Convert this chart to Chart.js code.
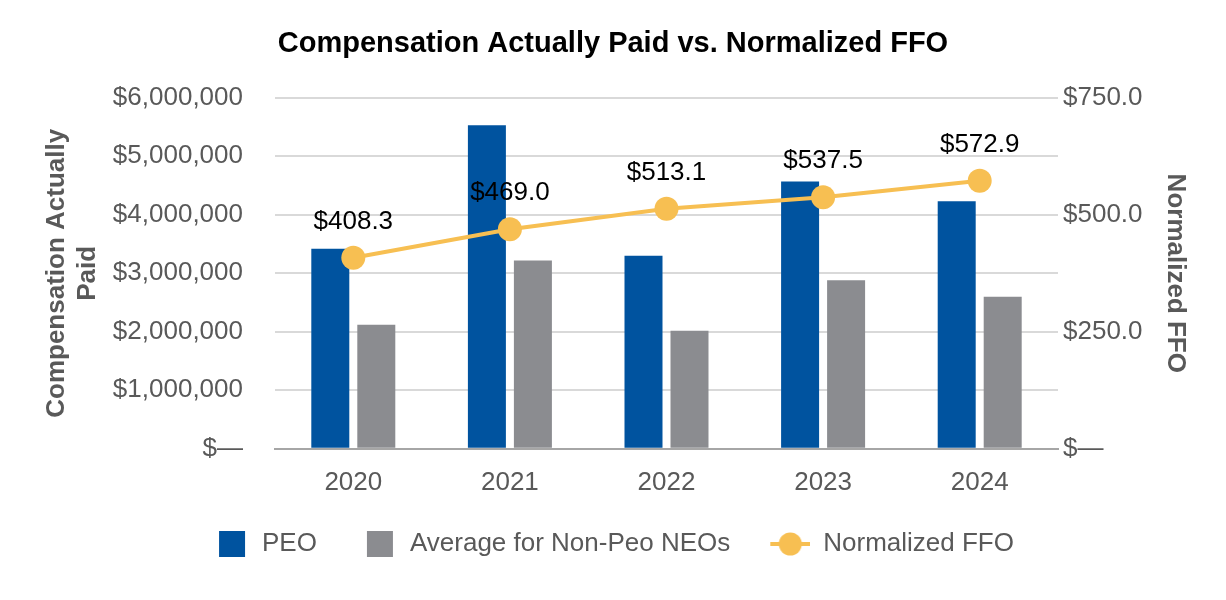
<!DOCTYPE html>
<html>
<head>
<meta charset="utf-8">
<script src="https://cdn.jsdelivr.net/npm/chart.js@4"></script>
<style>
  html, body { margin: 0; padding: 0; background: #ffffff; }
  #wrap { width: 1226px; height: 600px; }
</style>
</head>
<body>
<div id="wrap"><canvas id="capChart"></canvas></div>
<script>
// chart data
const years = ['2020', '2021', '2022', '2023', '2024'];
const peoPaid = [3420000, 5530000, 3300000, 4570000, 4230000];
const nonPeoPaid = [2120000, 3220000, 2020000, 2880000, 2600000];
const normalizedFfo = [408.3, 469.0, 513.1, 537.5, 572.9];

const BLUE = '#00539F';
const GRAY = '#8B8C90';
const GOLD = '#F7BF52';
const TEXT = '#595959';
const FONT = "'Liberation Sans', Arial, sans-serif";

// legend icons (drawn to the right of a 57px wide slot)
const ICON_W = 57;
function boxIcon(color) {
    const c = document.createElement('canvas');
    c.width = ICON_W; c.height = 26;
    const g = c.getContext('2d');
    g.fillStyle = color;
    g.fillRect(ICON_W - 30, 0, 26, 26);
    return c;
}
function lineIcon(color) {
    const c = document.createElement('canvas');
    c.width = ICON_W; c.height = 26;
    const g = c.getContext('2d');
    g.fillStyle = color;
    g.fillRect(ICON_W - 40, 11, 40, 4);
    g.beginPath();
    g.arc(ICON_W - 20, 13, 11.5, 0, Math.PI * 2);
    g.fill();
    return c;
}
const legendIcons = [boxIcon(BLUE), boxIcon(GRAY), lineIcon(GOLD)];

// value labels above the FFO points
const ffoLabels = {
    id: 'ffoLabels',
    afterDatasetsDraw(chart) {
        const meta = chart.getDatasetMeta(2);
        const ctx = chart.ctx;
        ctx.save();
        ctx.font = '26px ' + FONT;
        ctx.fillStyle = '#000000';
        ctx.textAlign = 'center';
        ctx.textBaseline = 'middle';
        meta.data.forEach((pt, i) => {
            ctx.fillText('$' + normalizedFfo[i].toFixed(1), pt.x, pt.y - 36);
        });
        ctx.restore();
    }
};

// the icon slots leave blank space at the left, so nudge the legend back
const legendNudge = {
    id: 'legendNudge',
    afterLayout(chart) {
        chart.legend.left -= 10;
        chart.legend.right -= 10;
    }
};

const ctx = document.getElementById('capChart').getContext('2d');
const capChart = new Chart(ctx, {
    data: {
        labels: years,
        datasets: [{
            type: 'bar',
            label: 'PEO',
            data: peoPaid,
            backgroundColor: BLUE,
            yAxisID: 'y',
            order: 1,
            categoryPercentage: 0.5875,
            barPercentage: 0.826
        }, {
            type: 'bar',
            label: 'Average for Non-Peo NEOs',
            data: nonPeoPaid,
            backgroundColor: GRAY,
            yAxisID: 'y',
            order: 1,
            categoryPercentage: 0.5875,
            barPercentage: 0.826
        }, {
            type: 'line',
            label: 'Normalized FFO',
            data: normalizedFfo,
            borderColor: GOLD,
            backgroundColor: GOLD,
            borderWidth: 4,
            pointRadius: 12,
            pointHoverRadius: 12,
            pointBorderWidth: 0,
            tension: 0,
            yAxisID: 'y1',
            order: 0
        }]
    },
    options: {
        responsive: true,
        maintainAspectRatio: false,
        animation: false,
        layout: {
            padding: { left: 20, right: 20, top: 0, bottom: 33 }
        },
        plugins: {
            title: {
                display: true,
                text: 'Compensation Actually Paid vs. Normalized FFO',
                color: '#000000',
                font: { family: FONT, size: 29, weight: 'bold' },
                padding: { top: 27, bottom: 36 }
            },
            legend: {
                position: 'bottom',
                labels: {
                    usePointStyle: true,
                    pointStyleWidth: ICON_W,
                    padding: 23,
                    color: TEXT,
                    font: { family: FONT, size: 26 },
                    sort: (a, b) => a.datasetIndex - b.datasetIndex,
                    generateLabels(chart) {
                        const items = Chart.defaults.plugins.legend.labels.generateLabels(chart);
                        items.forEach(item => {
                            item.pointStyle = legendIcons[item.datasetIndex];
                        });
                        return items;
                    }
                }
            },
            tooltip: { enabled: false }
        },
        scales: {
            x: {
                grid: { display: false },
                border: { display: true, color: '#A6A6A6', width: 2 },
                ticks: {
                    color: TEXT,
                    padding: 10,
                    font: { family: FONT, size: 26 }
                }
            },
            y: {
                position: 'left',
                min: 0,
                max: 6000000,
                grid: { color: '#D9D9D9', lineWidth: 2, drawTicks: false },
                border: { display: false },
                afterFit: scale => { scale.width = 255; },
                ticks: {
                    stepSize: 1000000,
                    padding: 32,
                    color: TEXT,
                    font: { family: FONT, size: 26 },
                    callback: v => v === 0 ? '$\u2014' : '$' + v.toLocaleString('en-US')
                },
                title: {
                    display: true,
                    text: ['Compensation Actually', 'Paid'],
                    color: TEXT,
                    font: { family: FONT, size: 26, weight: 'bold' },
                    padding: { top: 21, bottom: 6 }
                }
            },
            y1: {
                position: 'right',
                min: 0,
                max: 750,
                grid: { display: false, drawTicks: false },
                border: { display: false },
                afterFit: scale => { scale.width = 148; },
                ticks: {
                    stepSize: 250,
                    padding: 5,
                    color: TEXT,
                    font: { family: FONT, size: 26 },
                    callback: v => v === 0 ? '$\u2014' : '$' + v.toFixed(1)
                },
                title: {
                    display: true,
                    text: 'Normalized FFO',
                    color: TEXT,
                    font: { family: FONT, size: 26, weight: 'bold' },
                    padding: { top: 15, bottom: 0 }
                }
            }
        }
    },
    plugins: [ffoLabels, legendNudge]
});
</script>
</body>
</html>
